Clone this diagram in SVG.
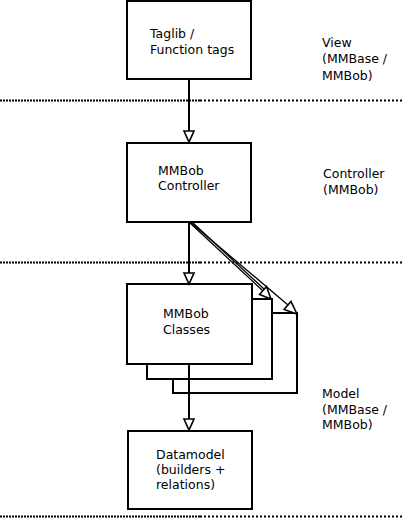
<svg xmlns="http://www.w3.org/2000/svg" width="403" height="520" viewBox="0 0 403 520">
<style>
.box{fill:#fff;stroke:#000;stroke-width:2}
.t{font-family:"DejaVu Sans",sans-serif;font-size:12.5px;fill:#000}
.c{stroke:#000;stroke-width:2;fill:none}
.d{stroke:#000;stroke-width:1.3;fill:none}
.ah{fill:#fff;stroke:#000;stroke-width:1.6}
.sepa{stroke:#000;stroke-width:2;stroke-dasharray:2,1}
.sepb{stroke:#000;stroke-width:2;stroke-dasharray:2,2}
</style>
<rect width="403" height="520" fill="#fff"/>
<g id="separators">
<line class="sepa" x1="0" y1="100.5" x2="200" y2="100.5"/>
<line class="sepb" x1="200" y1="100.5" x2="403" y2="100.5"/>
<line class="sepa" x1="0" y1="262.5" x2="200" y2="262.5"/>
<line class="sepb" x1="200" y1="262.5" x2="403" y2="262.5"/>
<line class="sepa" x1="0" y1="516.5" x2="200" y2="516.5"/>
<line class="sepb" x1="200" y1="516.5" x2="403" y2="516.5"/>
</g>
<g id="layer-labels">
<text class="t" x="322" y="47">View</text>
<text class="t" x="322" y="63">(MMBase /</text>
<text class="t" x="322" y="80">MMBob)</text>
<text class="t" x="323" y="178">Controller</text>
<text class="t" x="323" y="194">(MMBob)</text>
<text class="t" x="322" y="398">Model</text>
<text class="t" x="322" y="414">(MMBase /</text>
<text class="t" x="322" y="429">MMBob)</text>
</g>
<g id="node-taglib">
<rect class="box" x="127" y="1" width="124" height="78"/>
<text class="t" x="150" y="38">Taglib /</text>
<text class="t" x="150" y="54">Function tags</text>
</g>
<g id="node-controller">
<rect class="box" x="127" y="143" width="124" height="79"/>
<text class="t" x="158" y="175">MMBob</text>
<text class="t" x="158" y="190">Controller</text>
</g>
<g id="node-classes">
<rect class="box" x="173" y="313" width="124" height="80"/>
<rect class="box" x="147" y="299" width="125" height="80"/>
<rect class="box" x="127" y="284" width="125" height="80"/>
<text class="t" x="163" y="318">MMBob</text>
<text class="t" x="163" y="334">Classes</text>
</g>
<g id="node-datamodel">
<rect class="box" x="128" y="431" width="124" height="78"/>
<text class="t" x="156" y="459">Datamodel</text>
<text class="t" x="156" y="474">(builders +</text>
<text class="t" x="156" y="489">relations)</text>
</g>
<g id="connectors">
<line class="c" x1="189" y1="79" x2="189" y2="131"/>
<polygon class="ah" points="184,131 194,131 189,142"/>
<line class="c" x1="189" y1="222" x2="189" y2="273"/>
<polygon class="ah" points="184,273 194,273 189,284"/>
<line class="c" x1="189" y1="364" x2="189" y2="419"/>
<polygon class="ah" points="184,419 194,419 189,430"/>
<line class="d" x1="189" y1="222" x2="263" y2="291"/>
<line class="d" x1="192" y1="222" x2="264" y2="289"/>
<polygon class="ah" points="259.5,294.5 266.5,286.5 271,299"/>
<line class="d" x1="190" y1="222" x2="288" y2="305"/>
<polygon class="ah" points="284,309.5 291,301.5 297,314"/>
</g>
</svg>
